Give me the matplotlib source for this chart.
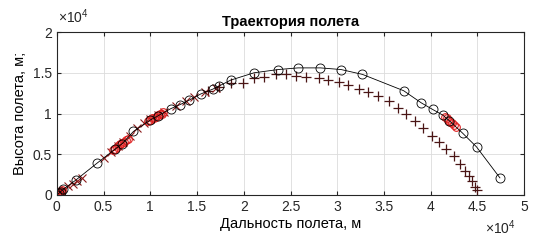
import matplotlib
matplotlib.use("Agg")
from matplotlib import pyplot as plt
import numpy as np

plt.rcParams['font.family'] = ['Liberation Sans', 'DejaVu Sans']
plt.rcParams['mathtext.fontset'] = 'custom'
plt.rcParams['mathtext.rm'] = 'Liberation Sans'
plt.rcParams['mathtext.it'] = 'Liberation Sans'

# all distances in units of 1e4 m
# main trajectory (black line with circles)
line_x = [0.0, 0.02, 0.04, 0.07, 0.20, 0.43, 0.62, 0.70, 0.82, 1.00, 1.08,
          1.22, 1.32, 1.41, 1.54, 1.67, 1.74, 1.86, 2.11, 2.37, 2.58, 2.82,
          3.04, 3.27, 3.71, 3.90, 4.02, 4.13, 4.20, 4.34, 4.49, 4.74]
line_y = [0.0, 0.02, 0.04, 0.07, 0.18, 0.39, 0.56, 0.63, 0.78, 0.92, 0.97,
          1.06, 1.11, 1.16, 1.24, 1.30, 1.34, 1.41, 1.50, 1.54, 1.56, 1.56,
          1.54, 1.48, 1.28, 1.13, 1.05, 0.98, 0.91, 0.76, 0.59, 0.21]

# red circles (clusters)
red_o_x = [0.0, 0.01, 0.02, 0.03, 0.04, 0.05, 0.06, 0.60, 0.62, 0.64, 0.66,
           0.68, 0.70, 0.72, 0.74, 0.76, 0.98, 1.00, 1.02, 1.04, 1.06, 1.08,
           1.10, 1.12, 1.14, 4.15, 4.17, 4.19, 4.21, 4.23, 4.25, 4.27]
red_o_y = [0.0, 0.01, 0.02, 0.03, 0.04, 0.05, 0.06, 0.55, 0.57, 0.59, 0.61,
           0.62, 0.64, 0.65, 0.67, 0.69, 0.91, 0.92, 0.94, 0.95, 0.96, 0.98,
           0.99, 1.00, 1.02, 0.96, 0.94, 0.92, 0.90, 0.88, 0.86, 0.84]

# crosses along early part
x_x = [0.05, 0.12, 0.17, 0.22, 0.27, 0.50, 0.58, 0.65, 0.71, 0.78, 0.86,
       0.93, 1.0, 1.08, 1.15, 1.28, 1.38, 1.47, 1.58, 1.70]
x_y = [0.05, 0.11, 0.14, 0.17, 0.21, 0.45, 0.53, 0.60, 0.65, 0.73, 0.82,
       0.88, 0.93, 0.98, 1.02, 1.09, 1.15, 1.20, 1.26, 1.31]

# plus markers (second trajectory)
plus_x = [1.62, 1.74, 1.86, 1.99, 2.11, 2.22, 2.35, 2.45, 2.56, 2.67, 2.80,
          2.90, 3.02, 3.12, 3.23, 3.33, 3.44, 3.55, 3.65, 3.74, 3.83, 3.92,
          4.01, 4.09, 4.16, 4.25, 4.31, 4.37, 4.41, 4.44, 4.47, 4.49]
plus_y = [1.28, 1.33, 1.37, 1.38, 1.44, 1.45, 1.49, 1.49, 1.46, 1.45, 1.43,
          1.41, 1.39, 1.35, 1.30, 1.27, 1.21, 1.15, 1.07, 1.00, 0.91, 0.82,
          0.73, 0.65, 0.57, 0.48, 0.38, 0.30, 0.23, 0.17, 0.10, 0.06]

xticks = [0, 0.5, 1, 1.5, 2, 2.5, 3, 3.5, 4, 4.5, 5]
yticks = [0, 0.5, 1, 1.5, 2]

fig = plt.figure(figsize=(5.36, 2.41), dpi=100)
ax = fig.add_axes([0.106, 0.191, 0.872, 0.676])

ax.plot(plus_x, plus_y, '+', color='#4a1515', markersize=6.5, mew=0.9)
ax.plot(x_x, x_y, 'x', color='#8b1a1a', markersize=5.5, mew=0.8)
ax.plot(red_o_x, red_o_y, 'o', color='#e02020', markersize=5.5, mfc='none', mew=0.8)
ax.plot(line_x, line_y, '-o', color='black', lw=0.6, markersize=6.5, mfc='none', mew=0.6)

ax.set_xlim(0, 5)
ax.set_ylim(0, 2)
ax.set_xticks(xticks)
ax.set_yticks(yticks)
ax.set_xticklabels([f'{t:g}' for t in xticks])
ax.set_yticklabels([f'{t:g}' for t in yticks])
ax.grid(True, color='#dcdcdc', lw=0.6)
ax.set_axisbelow(True)
ax.tick_params(direction='in', top=True, right=True, length=3, labelsize=10,
               colors='#262626', labelcolor='#262626')
for s in ax.spines.values():
    s.set_color('#262626')
    s.set_linewidth(0.8)

ax.set_title('Траектория полета', fontsize=10.5, fontweight='bold', pad=4)
ax.set_xlabel('Дальность полета, м', fontsize=10.5, labelpad=2)
ax.set_ylabel('Высота полета, м;', fontsize=10.5, labelpad=4)

fig.text(0.108, 0.905, r'$\times10^4$', fontsize=10, color='#262626')
fig.text(0.905, 0.03, r'$\times10^4$', fontsize=10, color='#262626')

fig.savefig('out.png', dpi=100)
